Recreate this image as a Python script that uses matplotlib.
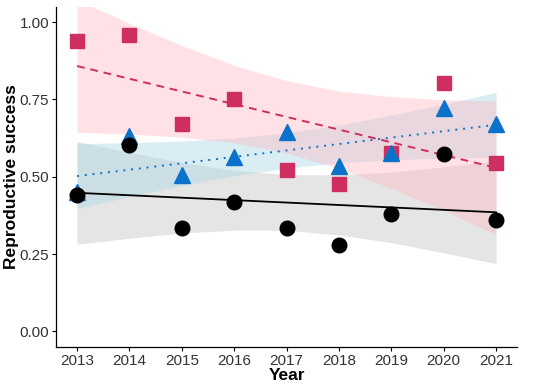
import numpy as np
import matplotlib
matplotlib.use('Agg')
import matplotlib.pyplot as plt

plt.rcParams['font.family'] = ['Liberation Sans', 'DejaVu Sans']

years = np.arange(2013, 2022)

sq_vals = [0.940, 0.957, 0.669, 0.752, 0.523, 0.475, 0.577, 0.804, 0.543]
tri_vals = [0.450, 0.633, 0.507, 0.563, 0.645, 0.534, 0.577, 0.723, 0.669]
circ_vals = [0.442, 0.601, 0.335, 0.418, 0.335, 0.278, 0.378, 0.572, 0.359]

# fitted lines (ends) and confidence bands per year
fit_years = [2013, 2021]
sq_fit = [0.858, 0.529]
tri_fit = [0.502, 0.668]
circ_fit = [0.448, 0.385]

sq_lo = [0.644, 0.638, 0.628, 0.610, 0.577, 0.527, 0.463, 0.391, 0.313]
sq_hi = [1.072, 0.996, 0.924, 0.860, 0.811, 0.777, 0.759, 0.749, 0.745]
tri_lo = [0.397, 0.436, 0.472, 0.503, 0.528, 0.545, 0.555, 0.560, 0.563]
tri_hi = [0.607, 0.610, 0.616, 0.625, 0.642, 0.667, 0.699, 0.734, 0.773]
circ_lo = [0.282, 0.301, 0.318, 0.327, 0.327, 0.312, 0.287, 0.254, 0.219]
circ_hi = [0.614, 0.579, 0.546, 0.521, 0.507, 0.506, 0.515, 0.532, 0.551]

pink = '#CF2E60'
blue = '#0B72C9'

fig = plt.figure(figsize=(5.5, 3.91), dpi=100)
ax = fig.add_axes([0.102, 0.113, 0.838, 0.870])

# bands
ax.fill_between(years, circ_lo, circ_hi, color='#BEBEBE', alpha=0.4, lw=0)
ax.fill_between(years, tri_lo, tri_hi, color='#ADD8E6', alpha=0.45, lw=0)
ax.fill_between(years, sq_lo, sq_hi, color='#FFB6C1', alpha=0.4, lw=0)

# fits
ax.plot(fit_years, circ_fit, color='black', lw=1.3)
ax.plot(fit_years, tri_fit, color=blue, lw=1.4, ls=(0, (1, 3)))
ax.plot(fit_years, sq_fit, color=pink, lw=1.4, ls=(0, (4, 3)))

# points
ax.plot(years, sq_vals, ls='none', marker='s', ms=9.5, color=pink)
ax.plot(years, tri_vals, ls='none', marker='^', ms=12, color=blue)
ax.plot(years, circ_vals, ls='none', marker='o', ms=10.5, color='black')

ax.set_xlim(2012.6, 2021.4)
ax.set_ylim(-0.05, 1.05)
ax.set_xticks(years)
ax.set_yticks([0, 0.25, 0.5, 0.75, 1.0])
ax.set_yticklabels(['0.00', '0.25', '0.50', '0.75', '1.00'])
ax.tick_params(labelsize=11, labelcolor='#333333', length=3, width=0.8, pad=2)
for s in ['top', 'right']:
    ax.spines[s].set_visible(False)
for s in ['left', 'bottom']:
    ax.spines[s].set_linewidth(0.9)

ax.set_xlabel('Year', fontsize=12.5, fontweight='bold', labelpad=0)
ax.set_ylabel('Reproductive success', fontsize=12.5, fontweight='bold')
ax.yaxis.set_label_coords(-0.08, 0.5)

fig.savefig('out.png', dpi=100)
